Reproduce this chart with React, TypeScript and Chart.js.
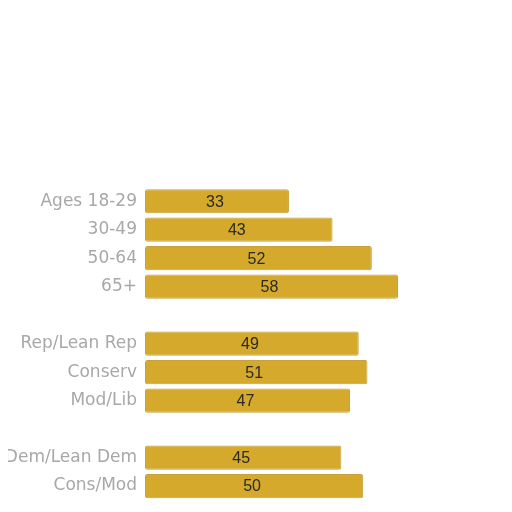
import React, { useEffect, useRef } from "react";
import { Chart, registerables } from "chart.js";

Chart.register(...registerables);

const categories = [
  "Ages 18-29",
  "30-49",
  "50-64",
  "65+",
  "",
  "Rep/Lean Rep",
  "Conserv",
  "Mod/Lib",
  " ",
  "Dem/Lean Dem",
  "Cons/Mod",
  "Liberal",
];
const values: (number | null)[] = [33, 43, 52, 58, null, 49, 51, 47, null, 45, 50, null];
const xMax = 80;

const valueLabels = {
  id: "valueLabels",
  afterDatasetsDraw(chart: any) {
    const ctx = chart.ctx;
    const meta = chart.getDatasetMeta(0);
    ctx.save();
    ctx.font = "16px 'Liberation Sans', Arial, sans-serif";
    ctx.fillStyle = "#2a2a2a";
    ctx.textAlign = "center";
    ctx.textBaseline = "middle";
    meta.data.forEach((bar: any, i: number) => {
      const v = values[i];
      if (v == null) return;
      const p = bar.getProps(["x", "y", "base"], true);
      ctx.fillText(String(v), (p.x + p.base) / 2 - 2, p.y + 1);
    });
    ctx.restore();
  },
};

export default function App() {
  const ref = useRef<HTMLCanvasElement | null>(null);
  useEffect(() => {
    if (!ref.current) return;
    const chart = new Chart(ref.current, {
      type: "bar",
      data: {
        labels: categories,
        datasets: [
          {
            data: values,
            backgroundColor: "#D4A92C",
            borderColor: "#C8A13C",
            borderWidth: 1,
            borderRadius: 2,
            borderSkipped: false,
            barPercentage: 0.85,
            categoryPercentage: 1,
          },
        ],
      },
      options: {
        indexAxis: "y",
        animation: false,
        responsive: false,
        maintainAspectRatio: false,
        layout: { padding: { top: 179, right: 10, left: 0, bottom: 0 } },
        plugins: { legend: { display: false }, tooltip: { enabled: false } },
        scales: {
          x: { display: false, min: 0, max: xMax },
          y: {
            grid: { display: false },
            border: { display: false },
            afterFit: (s: any) => {
              s.width = 137;
            },
            ticks: {
              color: "#A8A8A8",
              padding: 0,
              font: { family: "'DejaVu Sans', sans-serif", size: 17 },
            },
          },
        },
      },
      plugins: [valueLabels],
    });
    return () => chart.destroy();
  }, []);
  return (
    <div style={{ width: 496, height: 496, overflow: "hidden" }}>
      <canvas ref={ref} width={496} height={531} style={{ display: "block" }} />
    </div>
  );
}
